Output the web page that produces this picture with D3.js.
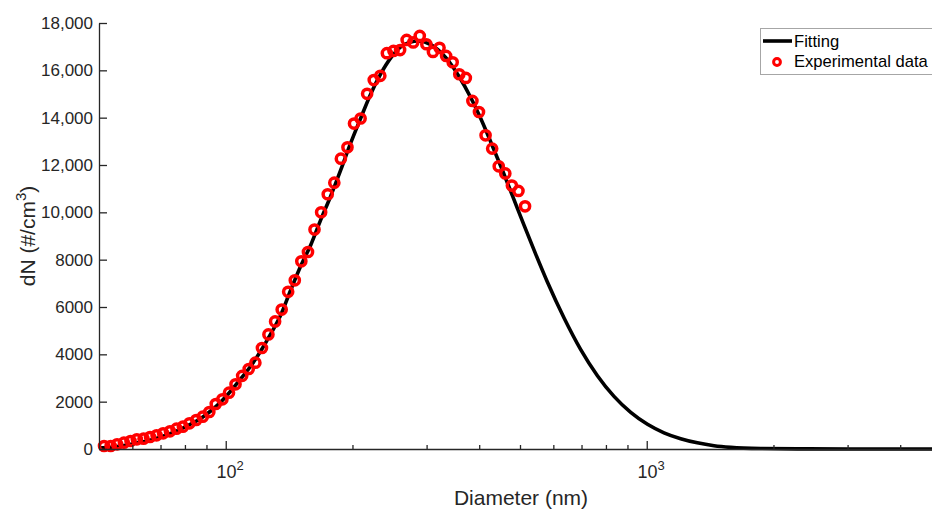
<!DOCTYPE html>
<html><head><meta charset="utf-8">
<script src="https://cdn.jsdelivr.net/npm/d3@7"></script>
<style>
body{margin:0;background:#fff;}
svg{display:block;font-family:"Liberation Sans",Arial,Helvetica,sans-serif;}
</style></head>
<body><svg id="chart" width="932" height="509"></svg>
<script>
// Experimental SMPS data (diameter in nm, dN in #/cm3)
const expDiameter = [51.4, 53.3, 55.2, 57.3, 59.4, 61.5, 63.8, 66.1, 68.5, 71.0, 73.7, 76.4, 79.1, 82.0, 85.1, 88.2, 91.4, 94.7, 98.2, 101.8, 105.5, 109.4, 113.4, 117.6, 121.9, 126.3, 131.0, 135.8, 140.7, 145.9, 151.2, 156.8, 162.5, 168.5, 174.7, 181.1, 187.7, 194.6, 201.7, 209.1, 216.7, 224.7, 232.9, 241.4, 250.3, 259.5, 269.0, 278.8, 289.0, 299.6, 310.6, 322.0, 333.8, 346.0, 358.7, 371.8, 385.4, 399.5, 414.2, 429.4, 445.1, 461.4, 478.3, 495.8, 514.0];
const expDN = [127, 127, 197, 268, 338, 409, 437, 507, 578, 662, 747, 859, 944, 1085, 1225, 1366, 1563, 1902, 2099, 2380, 2733, 3090, 3380, 3648, 4268, 4840, 5390, 5890, 6640, 7129, 7930, 8325, 9270, 10003, 10764, 11254, 12268, 12750, 13750, 13965, 15008, 15588, 15770, 16723, 16820, 16855, 17284, 17178, 17453, 17103, 16778, 16953, 16608, 16341, 15834, 15678, 14706, 14240, 13255, 12692, 11945, 11642, 11129, 10903, 10255];
// Fitted curve
const fitDiameter = [50, 53.3, 56.3, 59.5, 62.8, 66.4, 70.1, 74.0, 78.2, 82.6, 87.2, 92.1, 97.3, 102.8, 108.5, 114.7, 121.1, 127.9, 135.1, 142.7, 150.7, 159.2, 168.1, 177.6, 187.6, 198.1, 209.3, 221.0, 233.4, 246.6, 260.4, 275.1, 285.8, 306.9, 333.3, 357.6, 381.9, 403.4, 426.1, 454.2, 480.5, 511.1, 545.1, 580.8, 636.3, 697.0, 763.6, 836.1, 916.2, 1004, 1099, 1204, 1319, 1445, 1583, 1866, 2322, 3000, 4000, 5000];
const fitDN = [42, 72, 127, 199, 283, 380, 507, 655, 845, 1057, 1289, 1606, 1986, 2451, 2958, 3508, 4141, 4860, 5663, 6720, 7734, 8621, 9680, 10692, 11791, 12932, 13988, 15002, 15848, 16524, 16989, 17200, 17242, 17087, 16536, 15763, 14854, 13963, 12974, 11778, 10675, 9458, 8224, 7057, 5536, 4201, 3098, 2223, 1547, 1044, 685, 435, 260, 140, 70, 20, 5, 0, 0, 0];
// Axis ticks
const yTicks = [0, 2000, 4000, 6000, 8000, 10000, 12000, 14000, 16000, 18000];
const yTickLabels = ["0", "2000", "4000", "6000", "8000", "10,000", "12,000", "14,000", "16,000", "18,000"];
const xMajor = [100, 1000];
const xMajorExp = ["2", "3"];
const xMinor = [60, 70, 80, 90, 200, 300, 400, 500, 600, 700, 800, 900, 2000, 3000, 4000];
const legendLabels = ["Fitting", "Experimental data"];

const svg = d3.select("#chart");
const ink = "#262626";
const x = d3.scaleLog().domain([50, 5000]).range([99, 941]);
const y = d3.scaleLinear().domain([0, 18000]).range([449, 23]);

// fitted curve
const fitData = fitDiameter.map((d, i) => [d, fitDN[i]]);
svg.append("path")
  .datum(fitData)
  .attr("fill", "none")
  .attr("stroke", "#000")
  .attr("stroke-width", 3.6)
  .attr("stroke-linejoin", "round")
  .attr("d", d3.line().x(d => x(d[0])).y(d => y(d[1])).curve(d3.curveMonotoneX));

// experimental points
svg.append("g").selectAll("circle")
  .data(expDiameter.map((d, i) => [d, expDN[i]]))
  .join("circle")
  .attr("cx", d => x(d[0]))
  .attr("cy", d => y(d[1]))
  .attr("r", 4.6)
  .attr("fill", "none")
  .attr("stroke", "#ff0000")
  .attr("stroke-width", 3.5);

// y axis
const yAxis = svg.append("g").attr("transform", "translate(99,0)")
  .call(d3.axisLeft(y).tickValues(yTicks).tickSize(-8).tickSizeOuter(0).tickPadding(6)
    .tickFormat((d, i) => yTickLabels[i]));
yAxis.select(".domain").attr("stroke", ink).attr("stroke-width", 1.3);
yAxis.selectAll(".tick line").attr("stroke", ink).attr("stroke-width", 1.3);
yAxis.selectAll(".tick text").attr("fill", ink).attr("font-size", 17).attr("font-family", "Liberation Sans, Arial, sans-serif");

// x axis: minor ticks
const xMinorAxis = svg.append("g").attr("transform", "translate(0,449)")
  .call(d3.axisBottom(x).tickValues(xMinor).tickSize(-4).tickSizeOuter(0).tickFormat(""));
xMinorAxis.select(".domain").attr("stroke", ink).attr("stroke-width", 1.3);
xMinorAxis.selectAll(".tick line").attr("stroke", ink).attr("stroke-width", 1.3);

// x axis: major ticks
const xMajorAxis = svg.append("g").attr("transform", "translate(0,449)")
  .call(d3.axisBottom(x).tickValues(xMajor).tickSize(-8).tickSizeOuter(0).tickFormat(""));
xMajorAxis.select(".domain").remove();
xMajorAxis.selectAll(".tick line").attr("stroke", ink).attr("stroke-width", 1.3);
xMajorAxis.selectAll(".tick").each(function (d, i) {
  const t = d3.select(this).append("text")
    .attr("y", 29).attr("x", 4).attr("text-anchor", "middle")
    .attr("fill", ink).attr("font-size", 18).attr("font-family", "Liberation Sans, Arial, sans-serif");
  t.append("tspan").text("10");
  t.append("tspan").attr("dy", -8).attr("font-size", 13).text(xMajorExp[i]);
});

// axis labels
svg.append("text")
  .attr("x", 521).attr("y", 505)
  .attr("text-anchor", "middle").attr("fill", ink).attr("font-size", 21)
  .text("Diameter (nm)");

const yl = svg.append("text")
  .attr("transform", "translate(35,236) rotate(-90)")
  .attr("text-anchor", "middle").attr("fill", ink).attr("font-size", 21);
yl.append("tspan").text("dN (#/cm");
yl.append("tspan").attr("dy", -9).attr("font-size", 15).text("3");
yl.append("tspan").attr("dy", 9).text(")");

// legend
const lg = svg.append("g");
lg.append("rect").attr("x", 760.5).attr("y", 28.5).attr("width", 172).attr("height", 46)
  .attr("fill", "#fff").attr("stroke", "#a6a6a6").attr("stroke-width", 1);
lg.append("line").attr("x1", 763).attr("x2", 792).attr("y1", 41).attr("y2", 41)
  .attr("stroke", "#000").attr("stroke-width", 3.6);
lg.append("circle").attr("cx", 777).attr("cy", 62).attr("r", 3.4)
  .attr("fill", "#fff").attr("stroke", "#ff0000").attr("stroke-width", 3);
lg.selectAll("text.lab").data(legendLabels).join("text")
  .attr("class", "lab")
  .attr("x", 794).attr("y", (d, i) => 47 + i * 20)
  .attr("fill", "#000").attr("font-size", 16.6)
  .text(d => d);
</script></body></html>
